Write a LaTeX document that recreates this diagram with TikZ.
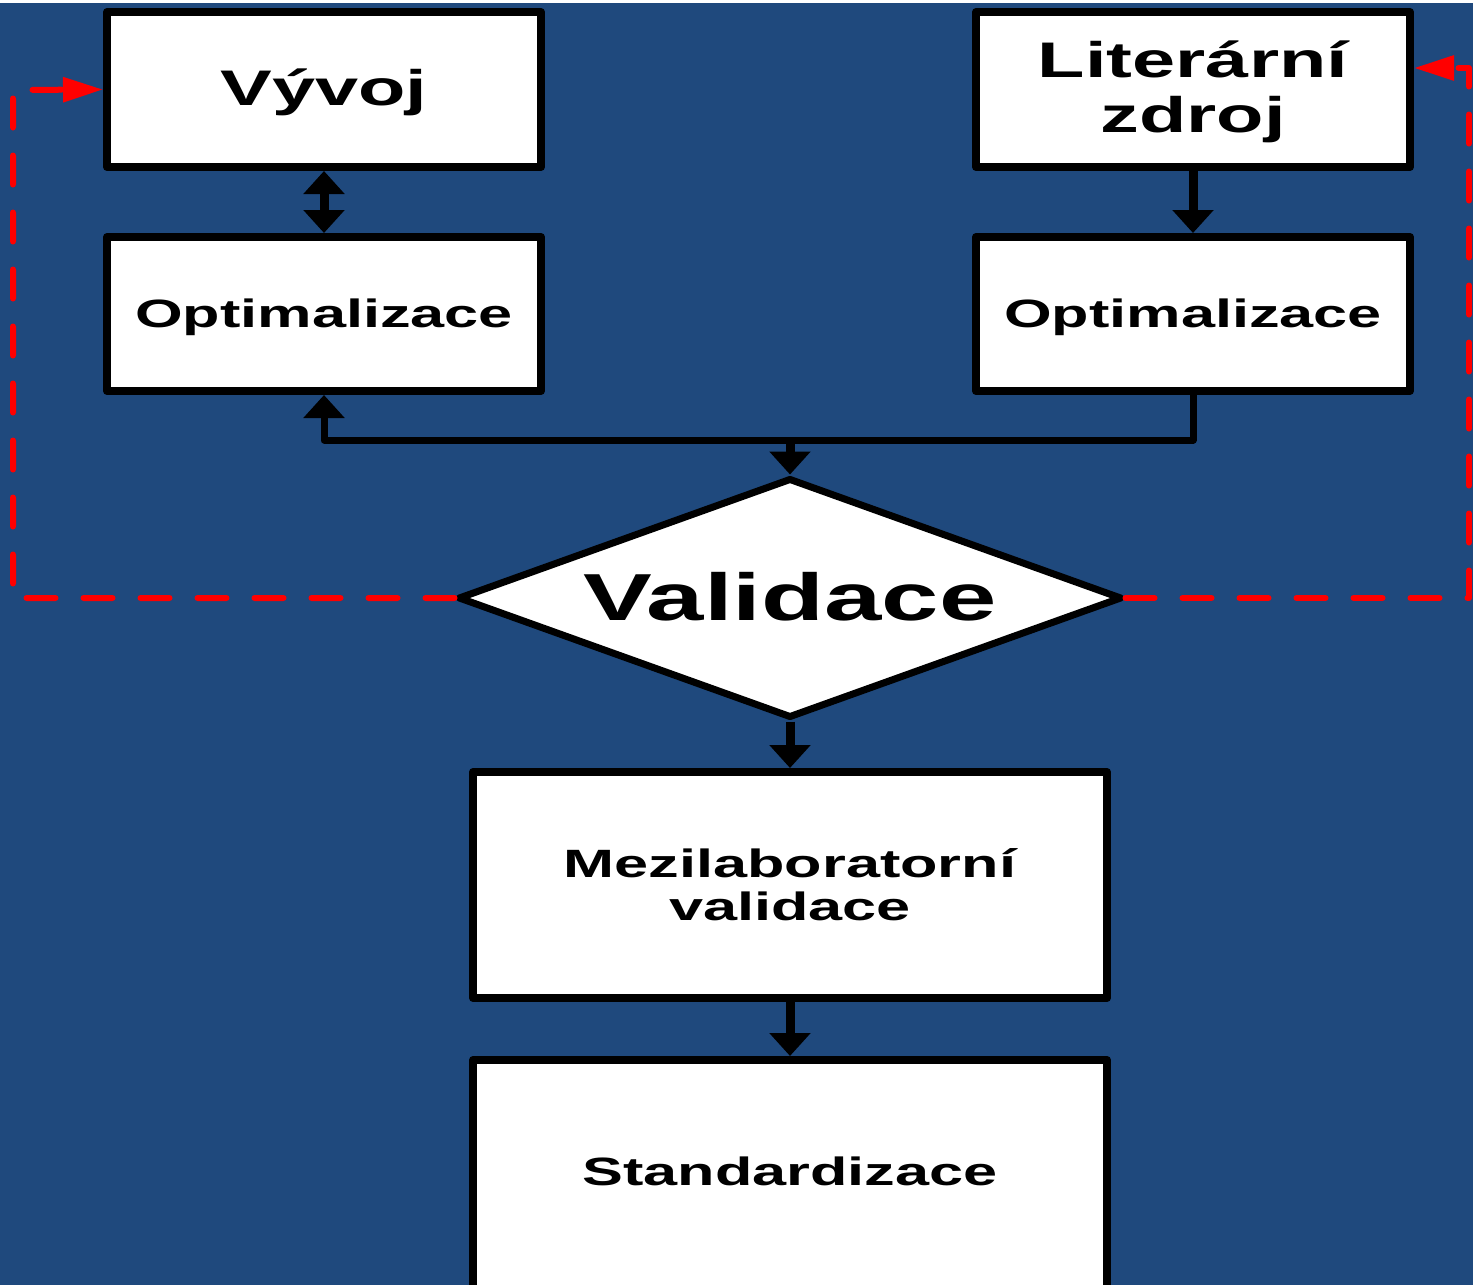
\documentclass[tikz,border=0pt]{standalone}
\usepackage{fontspec}
\newfontfamily\wfont[FakeStretch=1.55]{Liberation Sans}
\usetikzlibrary{arrows.meta,shapes.geometric}
\definecolor{bgblue}{HTML}{1F497D}
\definecolor{dred}{HTML}{FF0000}
\begin{document}
\begin{tikzpicture}[x=1pt,y=-1pt,
  box/.style={draw=black, fill=white, line width=8pt, line join=round, inner sep=0pt},
  lbl/.style={anchor=base, inner sep=0pt, text=black},
  fmid/.style={font=\wfont\bfseries\fontsize{39.5}{44}\selectfont},
  fbig/.style={font=\wfont\bfseries\fontsize{50}{55}\selectfont},
  fhuge/.style={font=\wfont\bfseries\fontsize{66.5}{70}\selectfont},
  conn/.style={draw=black, line width=9pt, line join=round},
  btip/.tip={Triangle[width=40pt,length=23pt]},
  fb/.style={conn, -btip},
  redline/.style={draw=dred, line width=6pt, line cap=round, line join=round,
    dash pattern=on 29pt off 28pt, -{Triangle[width=24pt,length=40pt]}}
]
\useasboundingbox (0,0) rectangle (1473,1285);
\fill[white] (0,0) rectangle (1473,1285);
\fill[bgblue] (0,3) rectangle (1473,1285);

% boxes
\node[box, minimum width=434pt, minimum height=155pt] (vyvoj) at (324,89.5) {};
\node[box, minimum width=434pt, minimum height=155pt] (lit) at (1193,89.5) {};
\node[box, minimum width=434pt, minimum height=154pt] (optL) at (324,314) {};
\node[box, minimum width=434pt, minimum height=154pt] (optR) at (1193,314) {};
\node[box, shape=diamond, line width=7pt, minimum width=664pt, minimum height=240pt] (dia) at (790,598) {};
\node[box, minimum width=634pt, minimum height=226pt] (mezi) at (790,885) {};
\node[box, minimum width=634pt, minimum height=300pt] (std) at (790,1210) {};

% labels
\node[lbl, fbig] (tvyvoj) at (324,105) {Vývoj};
\node[lbl, fbig] (tlit1) at (1193,77) {Literární};
\node[lbl, fbig] (tlit2) at (1193,132) {zdroj};
\node[lbl, fmid] (toptL) at (324,327) {Optimalizace};
\node[lbl, fmid] (toptR) at (1193,327) {Optimalizace};
\node[lbl, fhuge] (tdia) at (790,620) {Validace};
\node[lbl, fmid] (tmezi1) at (790,877) {Mezilaboratorní};
\node[lbl, fmid] (tmezi2) at (790,920) {validace};
\node[lbl, fmid] (tstd) at (790,1185) {Standardizace};

% black connectors
\coordinate (j) at (790,440);
\draw[conn, btip-btip] (vyvoj) -- (optL);
\draw[fb] (lit) -- (optR);
\draw[fb, line width=7pt] (optR.south) |- (j) -| (optL.south);
\draw[fb] (j) -- (dia.north);
\draw[fb] (dia.south) -- (mezi.north);
\draw[fb] (mezi.south) -- (std.north);

% red dashed feedback
\coordinate (l1) at (13,90);
\coordinate (r1) at (1469,68);
\draw[redline] (dia.west) -| (l1) -- (vyvoj.west);
\draw[redline] (dia.east) -| (r1) -- (lit.east |- r1);
\end{tikzpicture}
\end{document}
